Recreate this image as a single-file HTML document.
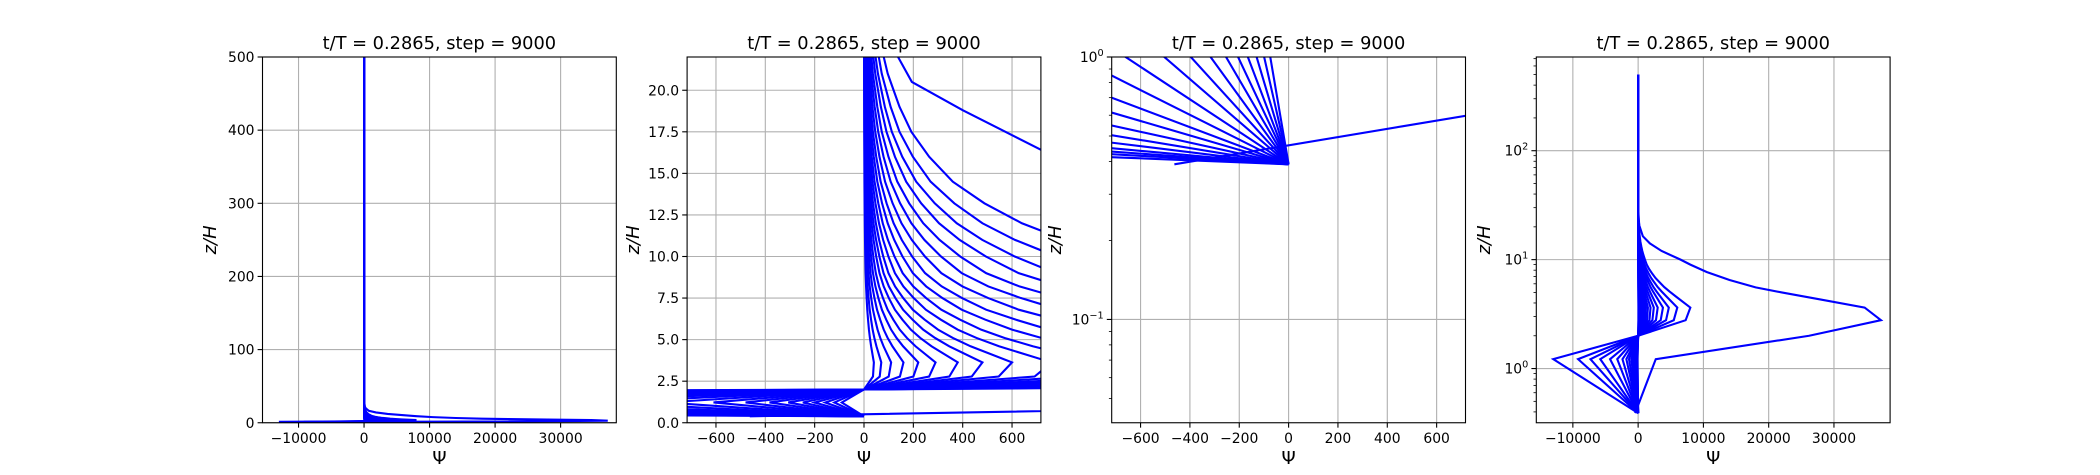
<!DOCTYPE html>
<html><head><meta charset="utf-8">
<style>
html,body{margin:0;padding:0;background:#fff;}
svg{display:block;font-family:"DejaVu Sans","Liberation Sans",sans-serif;}
</style></head>
<body>
<svg id="fig" xmlns="http://www.w3.org/2000/svg" width="2100" height="475" viewBox="0 0 2100 475">
<rect width="2100" height="475" fill="#fff"/>
</svg>
<script>
// ---- data ----
const zLevels = [0.39, 1.22, 2.0, 2.78, 3.63, 4.6, 5.1, 5.6, 6.2, 6.8, 7.5, 8.2, 9, 10, 11, 12, 13.2, 14.5, 16, 17.5, 19, 21, 23, 26, 30, 35, 60, 120, 500];
const posShape = [0, 0, 0, 0.91, 1.0, 0.72, 0.6, 0.5, 0.41, 0.33, 0.265, 0.21, 0.165, 0.13, 0.102, 0.08, 0.061, 0.045, 0.033, 0.024, 0.018, 0.012, 0.008, 0.005, 0.003, 0.0015, 0.0002, 0, 0];
const negShape = [0, 1, 0, 0, 0, 0, 0, 0, 0, 0, 0, 0, 0, 0, 0, 0, 0, 0, 0, 0, 0, 0, 0, 0, 0, 0, 0, 0, 0];
const posAmp = [8000, 6000, 4700, 3800, 3000, 2400, 1900, 1500, 1200, 950, 760, 600, 480, 380, 290, 220, 160, 110, 70, 40];
const negAmp = [13000, 9200, 7300, 5800, 4300, 3200, 2400, 1800, 1400, 1050, 800, 610, 480, 383, 307, 248, 200, 157, 120, 90];
const bigZ   = [0.39, 1.22, 2.0, 2.78, 3.63, 4.3, 5.0, 5.56, 6.5, 7.7, 9, 10, 12, 14.1, 16.4, 18.8, 20.5, 22, 26, 35, 60, 500];
const bigPsi = [-463, 2700, 26200, 37200, 34700, 28000, 22000, 18000, 14000, 10500, 8000, 6500, 3600, 1800, 720, 400, 194, 138, 60, 10, 1, 0];
const titleText = "t/T = 0.2865, step = 9000";

// ---- layout ----
const NS = "http://www.w3.org/2000/svg";
const svg = document.getElementById('fig');
const panelLeft = [262.5, 687.1, 1111.7, 1536.3];
const PW = 353.8, TOP = 57, BOT = 422.75;

function mk(tag, attrs, parent) {
  const e = document.createElementNS(NS, tag);
  for (const k in attrs) e.setAttribute(k, attrs[k]);
  (parent || svg).appendChild(e);
  return e;
}

const panels = [
  {xlim: [-15500, 38500], xticks: [-10000, 0, 10000, 20000, 30000], ylog: false, ylim: [0, 500], yticks: [0, 100, 200, 300, 400, 500], ydec: 0},
  {xlim: [-717, 717], xticks: [-600, -400, -200, 0, 200, 400, 600], ylog: false, ylim: [0, 22], yticks: [0, 2.5, 5, 7.5, 10, 12.5, 15, 17.5, 20], ydec: 1},
  {xlim: [-717, 717], xticks: [-600, -400, -200, 0, 200, 400, 600], ylog: true, ylim: [0.0404, 1], yticks: [-1, 0]},
  {xlim: [-15600, 38600], xticks: [-10000, 0, 10000, 20000, 30000], ylog: true, ylim: [0.318, 725], yticks: [0, 1, 2]}
];

function fmtX(v) { return (v < 0 ? "\u2212" : "") + Math.abs(v); }

panels.forEach((p, pi) => {
  const L = panelLeft[pi], R = L + PW;
  const g = mk('g', {});
  
  
  const xs = v => L + (v - p.xlim[0]) / (p.xlim[1] - p.xlim[0]) * PW;
  const ys = p.ylog
    ? v => TOP + (Math.log10(p.ylim[1]) - Math.log10(v)) / (Math.log10(p.ylim[1]) - Math.log10(p.ylim[0])) * (BOT - TOP)
    : v => BOT - (v - p.ylim[0]) / (p.ylim[1] - p.ylim[0]) * (BOT - TOP);

  const grid = mk('g', {stroke: '#b0b0b0', 'stroke-width': 1.1}, g);
  
  
  p.xticks.forEach(t => mk('line', {x1: xs(t), x2: xs(t), y1: TOP, y2: BOT}, grid));
  p.yticks.forEach(t => { const y = p.ylog ? ys(Math.pow(10, t)) : ys(t); mk('line', {x1: L, x2: R, y1: y, y2: y}, grid); });

  const cp = mk('clipPath', {id: 'clip' + pi}, g);
  mk('rect', {x: L, y: TOP, width: PW, height: BOT - TOP}, cp);
  const lines = mk('g', {'clip-path': 'url(#clip' + pi + ')', fill: 'none', stroke: '#0000ff', 'stroke-width': 2.1, 'stroke-linejoin': 'miter'}, g);
  
  

  for (let c = 0; c < posAmp.length; c++) {
    let d = '';
    zLevels.forEach((z, i) => {
      const psi = posAmp[c] * posShape[i] - negAmp[c] * negShape[i];
      d += (i ? 'L' : 'M') + xs(psi).toFixed(2) + ',' + ys(z).toFixed(2);
    });
    const path = mk('path', {d: d}, lines);
    
    
  }
  let d = '';
  bigZ.forEach((z, i) => { d += (i ? 'L' : 'M') + xs(bigPsi[i]).toFixed(2) + ',' + ys(z).toFixed(2); });
  const bp = mk('path', {d: d}, lines);
  
  

  const fr = mk('rect', {x: L, y: TOP, width: PW, height: BOT - TOP, fill: 'none', stroke: '#000', 'stroke-width': 1.1}, g);
  
  

  const xt = mk('g', {'font-size': 13.9, fill: '#000', 'text-anchor': 'middle'}, g);
  
  
  p.xticks.forEach(t => {
    mk('line', {x1: xs(t), x2: xs(t), y1: BOT, y2: BOT + 4.9, stroke: '#000', 'stroke-width': 1.1}, xt);
    const tx = mk('text', {x: xs(t), y: BOT + 20}, xt);
    tx.textContent = fmtX(t);
  });

  const yt = mk('g', {'font-size': 13.9, fill: '#000', 'text-anchor': 'end'}, g);
  
  
  if (!p.ylog) {
    p.yticks.forEach(t => {
      const y = ys(t);
      mk('line', {x1: L - 4.9, x2: L, y1: y, y2: y, stroke: '#000', 'stroke-width': 1.1}, yt);
      const tx = mk('text', {x: L - 8, y: y + 5}, yt);
      tx.textContent = t.toFixed(p.ydec);
    });
  } else {
    const e0 = Math.floor(Math.log10(p.ylim[0])), e1 = Math.ceil(Math.log10(p.ylim[1]));
    for (let e = e0; e <= e1; e++) for (let m = 2; m <= 9; m++) {
      const v = m * Math.pow(10, e);
      if (v < p.ylim[0] || v > p.ylim[1]) continue;
      mk('line', {x1: L - 2.8, x2: L, y1: ys(v), y2: ys(v), stroke: '#000', 'stroke-width': 0.8}, yt);
    }
    p.yticks.forEach(t => {
      const y = ys(Math.pow(10, t));
      mk('line', {x1: L - 4.9, x2: L, y1: y, y2: y, stroke: '#000', 'stroke-width': 1.1}, yt);
      const tx = mk('text', {x: L - 8, y: y + 5}, yt);
      const ex = (t < 0 ? "\u2212" : "") + Math.abs(t);
      tx.textContent = '10';
      const sup = mk('tspan', {dy: -6, 'font-size': 9.7}, tx);
      sup.textContent = ex;
    });
  }

  const ti = mk('text', {x: L + PW / 2, y: 49, 'font-size': 17.8, 'text-anchor': 'middle', fill: '#000'}, g);
  
  
  ti.textContent = titleText;

  const xl = mk('text', {x: L + PW / 2, y: 464, 'font-size': 18, 'text-anchor': 'middle', fill: '#000'}, g);
  
  
  xl.textContent = '\u03A8';
  const yLabelX = [210, 633, 1055, 1484][pi];
  const yl = mk('text', {x: yLabelX, y: (TOP + BOT) / 2, 'font-size': 18, 'font-style': 'italic', 'text-anchor': 'middle', fill: '#000', transform: 'rotate(-90 ' + yLabelX + ' ' + (TOP + BOT) / 2 + ')', dy: 6}, g);
  
  
  yl.textContent = 'z/H';
});
</script>
</body></html>
